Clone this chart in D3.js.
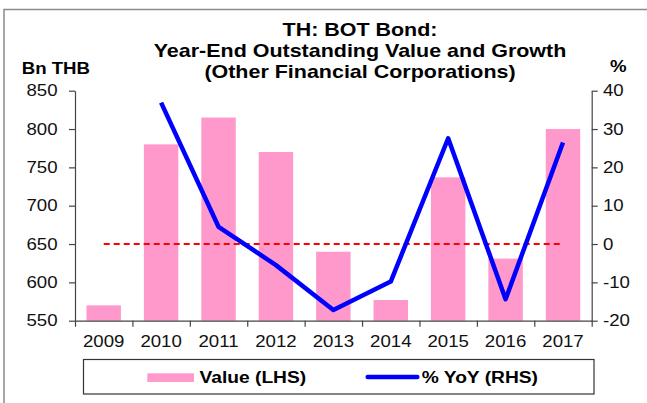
<!DOCTYPE html>
<html>
<head>
<meta charset="utf-8">
<script src="https://cdn.jsdelivr.net/npm/d3@7"></script>
<style>
body{margin:0;background:#fff;}
svg{display:block;font-family:"Liberation Sans",Arial,sans-serif;}
</style>
</head>
<body>
<svg id="chart"></svg>
<script>
var years=["2009","2010","2011","2012","2013","2014","2015","2016","2017"];
var values=[570,780,815,770,640,577,737,631,800];
var yoy=[null,36.9,4.5,-5.5,-17.2,-9.8,27.6,-14.4,26.5];
var zeroLine=[0,0,0,0,0,0,0,0,0];
var leftTicks=[550,600,650,700,750,800,850];
var rightTicks=[-20,-10,0,10,20,30,40];
var titleLines=["TH: BOT Bond:","Year-End Outstanding Value and Growth","(Other Financial Corporations)"];

var w=647,h=403;
var sx=1.13; // text in the original is a bit stretched sideways
var plot={left:75,right:591.7,top:90.7,bottom:320.7};

var svg=d3.select("#chart").attr("width",w).attr("height",h);

// outer frame (only top and left edges show)
svg.append("rect")
   .attr("x",4).attr("y",9.5)
   .attr("width",700).attr("height",500)
   .attr("fill","none")
   .attr("stroke","#8a8a8a")
   .attr("stroke-width",1.5);

var xScale=d3.scaleBand()
             .domain(years)
             .range([plot.left,plot.right])
             .paddingInner(0.4)
             .paddingOuter(0.2);
var xTickScale=d3.scaleLinear()
                 .domain([0,years.length])
                 .range([plot.left,plot.right]);
var yLeft=d3.scaleLinear()
            .domain([550,850])
            .range([plot.bottom,plot.top]);
var yRight=d3.scaleLinear()
             .domain([-20,40])
             .range([plot.bottom,plot.top]);

function cx(d){return xScale(d)+xScale.bandwidth()/2;}

// bars
svg.selectAll("rect.bar")
   .data(values)
   .enter()
   .append("rect")
   .classed("bar",true)
   .attr("x",function(d,i){return xScale(years[i]);})
   .attr("y",function(d){return yLeft(d);})
   .attr("width",xScale.bandwidth())
   .attr("height",function(d){return yLeft(550)-yLeft(d);})
   .attr("fill","#ff99cc");

// zero reference line
var zline=d3.line()
            .x(function(d,i){return cx(years[i]);})
            .y(function(d){return yRight(d);});
svg.append("path")
   .datum(zeroLine)
   .attr("d",zline)
   .attr("fill","none")
   .attr("stroke","#ff0000")
   .attr("stroke-width",2)
   .attr("stroke-dasharray","6,4");

// yoy line
var line=d3.line()
           .defined(function(d){return d!==null;})
           .x(function(d,i){return cx(years[i]);})
           .y(function(d){return yRight(d);});
svg.append("path")
   .datum(yoy)
   .attr("d",line)
   .attr("fill","none")
   .attr("stroke","#0000ff")
   .attr("stroke-width",4.5)
   .attr("stroke-linejoin","round");

function styleAxis(g){
  g.select(".domain").attr("stroke","#444").attr("stroke-width",1.2);
  g.selectAll(".tick line").attr("stroke","#444").attr("stroke-width",1.2);
  g.selectAll("text")
   .attr("fill","#111")
   .style("font-size","16.5px")
   .style("font-family","'Liberation Sans',Arial,sans-serif");
}
function plain(d){return String(d);}

// left axis
var gl=svg.append("g")
   .attr("transform","translate("+plot.left+",0)")
   .call(d3.axisLeft(yLeft).tickValues(leftTicks).tickFormat(plain).tickSize(6).tickSizeOuter(0));
styleAxis(gl);
gl.selectAll("text").attr("x",-17.5/sx).attr("transform","scale("+sx+",1)");

// right axis
var gr=svg.append("g")
   .attr("transform","translate("+plot.right+",0)")
   .call(d3.axisRight(yRight).tickValues(rightTicks).tickFormat(plain).tickSize(6).tickSizeOuter(0));
styleAxis(gr);
gr.selectAll("text").attr("x",11.3/sx).attr("transform","scale("+sx+",1)");

// bottom axis: ticks at band edges, labels at band centres
var gb=svg.append("g")
   .attr("transform","translate(0,"+plot.bottom+")")
   .call(d3.axisBottom(xTickScale).ticks(years.length).tickFormat("").tickSize(6).tickSizeOuter(0));
styleAxis(gb);
var gbl=svg.append("g")
   .attr("transform","translate(0,"+plot.bottom+")")
   .call(d3.axisBottom(xScale).tickSize(0));
gbl.select(".domain").remove();
styleAxis(gbl);
gbl.selectAll("text").attr("y",26.3).attr("dy",0).attr("x",0).attr("transform","scale("+sx+",1)");
gbl.selectAll(".tick").attr("transform",function(d){return "translate("+cx(d)+",0)";});

// title
svg.selectAll("text.title")
   .data(titleLines)
   .enter()
   .append("text")
   .classed("title",true)
   .attr("text-anchor","middle")
   .attr("transform",function(d,i){return "translate(360,"+[36,57.3,77.5][i]+") scale("+sx+",1)";})
   .style("font-weight","bold")
   .style("font-size","19px")
   .attr("fill","#000")
   .text(function(d){return d;});

// axis unit labels
svg.append("text")
   .attr("transform","translate(21.7,74) scale("+sx+",1)")
   .style("font-weight","bold").style("font-size","16.5px")
   .text("Bn THB");
svg.append("text")
   .attr("transform","translate(610,72) scale("+sx+",1)")
   .style("font-weight","bold").style("font-size","16.5px")
   .text("%");

// legend
var lg=svg.append("g");
lg.append("rect")
  .attr("x",83.5).attr("y",359.5)
  .attr("width",510.5).attr("height",34.5)
  .attr("fill","#fff")
  .attr("stroke","#333")
  .attr("stroke-width",1.2);
lg.append("rect")
  .attr("x",147.3).attr("y",373.3)
  .attr("width",46.7).attr("height",8.7)
  .attr("fill","#ff99cc");
lg.append("text")
  .attr("transform","translate(199.5,383.3) scale("+sx+",1)")
  .style("font-weight","bold").style("font-size","17px")
  .text("Value (LHS)");
lg.append("line")
  .attr("x1",367.7).attr("x2",417.3)
  .attr("y1",377).attr("y2",377)
  .attr("stroke","#0000ff").attr("stroke-width",4.5)
  .attr("stroke-linecap","round");
lg.append("text")
  .attr("transform","translate(421.7,383.3) scale("+sx+",1)")
  .style("font-weight","bold").style("font-size","17px")
  .text("% YoY (RHS)");
</script>
</body>
</html>
